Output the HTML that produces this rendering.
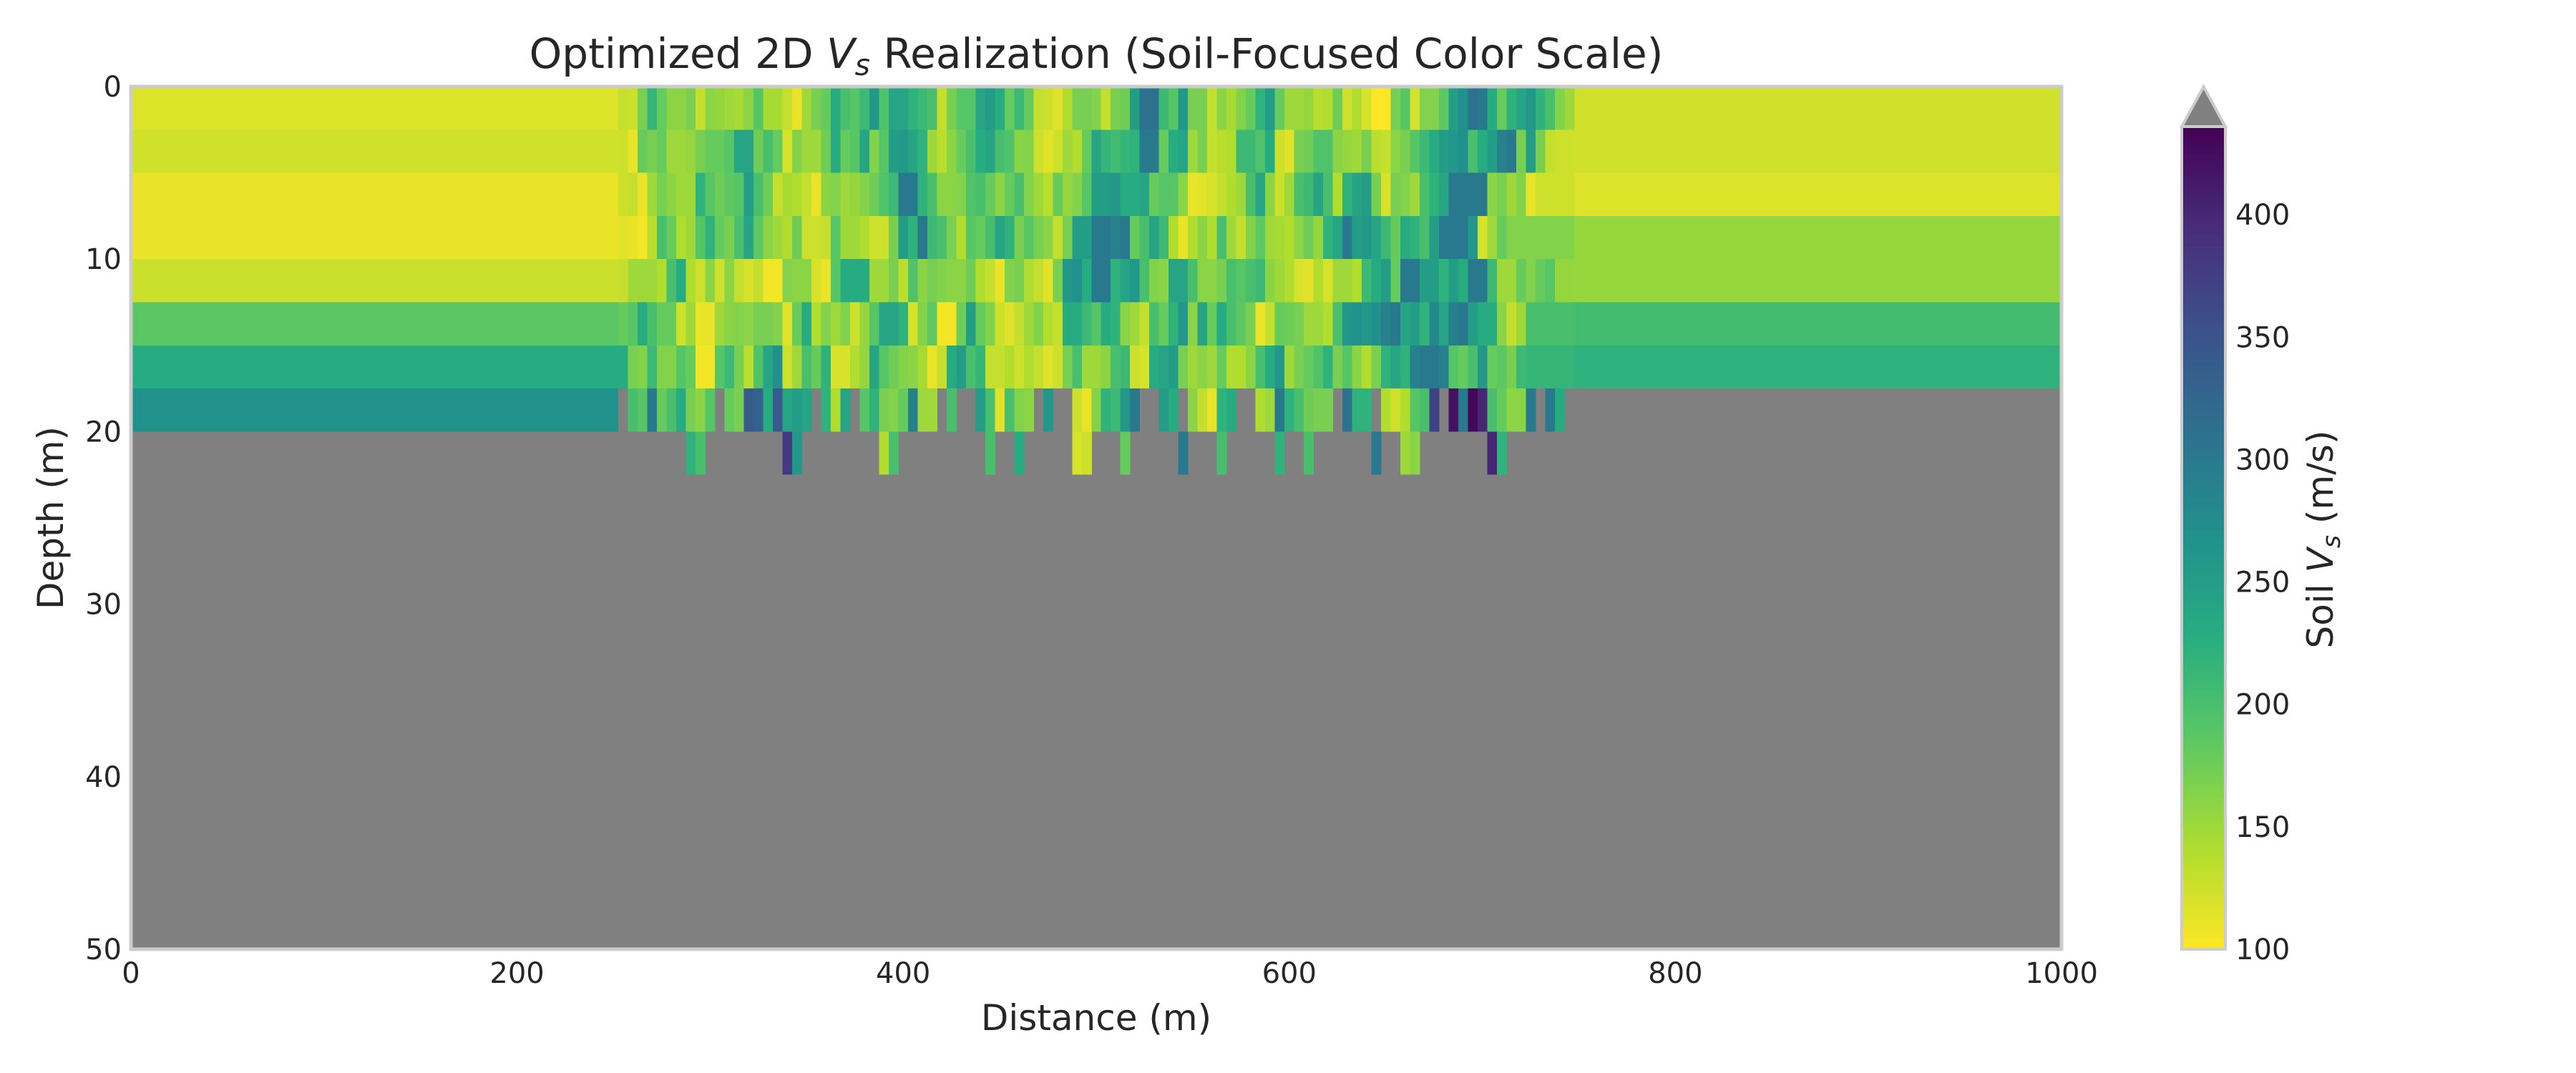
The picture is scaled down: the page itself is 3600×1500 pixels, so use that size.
<!DOCTYPE html>
<html><head><meta charset="utf-8"><style>
html,body{margin:0;padding:0;background:#fff;}
svg{display:block;font-family:"DejaVu Sans","Liberation Sans",sans-serif;}
</style></head><body>
<svg id="chart" width="3600" height="1500" viewBox="0 0 3600 1500">
<defs>
<linearGradient id="cbgrad" x1="0" y1="1" x2="0" y2="0">
<stop offset="0" stop-color="#fde725"/><stop offset="0.125" stop-color="#addc30"/><stop offset="0.25" stop-color="#5ec962"/><stop offset="0.375" stop-color="#28ae80"/><stop offset="0.5" stop-color="#21918c"/><stop offset="0.625" stop-color="#2c728e"/><stop offset="0.75" stop-color="#3b528b"/><stop offset="0.875" stop-color="#472d7b"/><stop offset="1" stop-color="#440154"/>
</linearGradient>
</defs>
<text x="1532" y="95" font-size="58" fill="#262626" text-anchor="middle">Optimized 2D <tspan font-style="italic">V</tspan><tspan font-style="italic" font-size="41" dy="10">s</tspan><tspan dy="-10"> Realization (Soil-Focused Color Scale)</tspan></text>
<g id="plot"></g>
<g id="axes"></g>
<g id="cbar"></g>
</svg>
<script>
// ---- data ----
const xTicks=[0,200,400,600,800,1000];
const yTicks=[0,10,20,30,40,50];
const cbTicks=[100,150,200,250,300,350,400];
const layerTops=[0,2.5,5,7.5,10,12.5,15,17.5];
const leftVs=[117,124,110,110,127,187,231,268];
const rightVs=[124,124,117,154,154,204,221];
const midStart=252.5, midStep=5, midCols=99;
const row0=[130,125,170,215,180,160,160,170,130,160,155,150,145,160,190,145,145,130,110,150,170,180,230,200,190,210,260,195,240,240,220,210,200,130,170,190,190,240,250,230,180,210,180,130,125,115,140,170,170,165,130,
170,175,250,310,310,210,190,260,170,170,130,160,145,165,180,220,250,180,150,150,155,135,140,175,125,140,120,100,100,170,190,120,165,165,185,250,270,310,300,230,180,220,240,260,220,200,165,150];
const row1=[125,110,180,170,180,150,150,155,170,180,180,190,240,240,175,200,180,120,165,150,150,175,230,180,190,240,165,190,250,255,240,220,150,135,160,180,200,230,240,200,195,160,165,125,115,125,150,140,180,240,215,
205,215,220,300,300,180,230,240,150,170,130,135,140,210,210,195,230,125,115,170,175,195,195,160,155,150,170,135,130,160,170,190,210,230,250,260,270,200,230,250,290,300,170,250,170,130,125,125];
const row2=[125,130,110,150,170,160,150,150,220,190,175,185,190,250,200,175,130,145,140,130,110,160,165,150,155,165,175,195,210,300,300,220,200,160,160,165,195,200,180,160,180,200,165,150,135,180,155,165,190,250,
250,260,230,230,240,180,190,190,160,110,115,120,130,140,150,200,240,160,125,150,200,210,240,200,140,220,240,250,170,120,170,165,150,200,220,240,300,300,300,300,160,170,150,165,110,125,125,125,125];
const row3=[115,110,105,135,200,180,140,150,190,220,180,170,200,240,185,160,150,140,175,125,125,130,190,150,150,140,125,125,170,250,220,300,210,200,170,140,190,180,200,240,220,170,190,170,160,130,170,250,250,300,
300,290,300,180,200,240,210,140,110,140,160,140,200,150,130,165,185,150,145,140,160,175,155,220,240,300,250,260,240,210,180,230,220,200,250,300,300,300,260,120,150,180,165,165,165,165,165,165,165];
const row4=[130,150,150,150,140,200,230,140,125,160,125,160,130,120,130,105,105,165,160,160,120,110,190,230,230,230,150,150,170,135,195,160,170,165,160,160,175,140,130,110,165,170,140,130,115,170,260,270,230,300,
300,220,240,260,200,165,160,240,240,200,160,160,170,200,190,200,210,160,150,140,120,115,140,120,150,150,140,210,230,250,180,300,300,250,250,220,250,230,300,300,210,150,150,180,165,180,190,155,155];
const row5=[180,190,230,200,180,180,125,150,110,110,150,160,165,160,170,170,165,115,180,230,140,165,150,165,125,155,190,240,240,220,120,165,185,105,105,175,250,180,165,125,115,130,150,165,140,130,230,230,210,190,
230,220,160,150,130,200,180,220,260,160,240,180,230,200,185,170,110,130,180,175,170,150,150,140,200,260,265,260,270,290,300,240,250,220,280,240,290,300,250,230,230,160,130,150,200,200,200,200,200];
const row6=[230,170,165,210,165,165,190,180,105,105,190,210,170,135,195,240,270,125,150,200,180,220,120,120,140,155,240,190,175,165,160,145,110,130,230,250,200,215,130,130,140,125,140,130,115,125,170,200,150,150,
160,200,210,125,120,230,240,250,170,150,160,150,180,140,140,160,200,230,260,150,170,180,195,220,170,190,160,140,170,220,240,220,290,300,300,290,190,180,200,260,180,185,170,210,215,215,215,215,215];
const row7=[null,200,190,300,180,200,230,170,160,190,null,180,170,340,330,230,340,240,250,240,null,220,140,240,null,190,220,170,165,180,290,150,150,null,200,null,null,250,200,115,200,165,160,null,260,null,null,125,110,165,
220,210,260,300,null,null,250,230,null,160,130,110,220,230,null,null,140,150,300,220,200,175,170,170,null,310,220,220,null,140,125,140,190,200,370,null,420,300,430,400,200,180,160,160,300,null,300,230];
const row8=[null,null,null,null,null,null,null,220,200,null,null,null,null,null,null,null,null,380,260,null,null,null,null,null,null,null,null,140,200,null,null,null,null,null,null,null,null,null,200,null,null,230,null,null,null,null,null,120,125,null,
null,null,180,null,null,null,null,null,300,null,null,null,200,null,null,null,null,null,220,null,null,200,null,null,null,null,null,null,300,null,null,150,160,null,null,null,null,null,null,null,400,220,null,null,null,null,null,null,null];
const midRows=[row0,row1,row2,row3,row4,row5,row6,row7,row8];
const vmin=100, vmax=436;

// ---- geometry ----
const X0=183,X1=2881,Y0=121,Y1=1327;
const xs=m=>X0+m*(X1-X0)/1000;
const ys=d=>Y0+d*(Y1-Y0)/50;
const CBX=3049,CBW=61,CBT=177,CBB=1327,CBTIP=121;
const cbY=v=>CBB-(v-vmin)*(CBB-CBT)/(vmax-vmin);

const vir=[[68,1,84],[71,45,123],[59,82,139],[44,114,142],[33,145,140],[40,174,128],[94,201,98],[173,220,48],[253,231,37]];
function color(v){
  if(v>vmax) return '#808080';
  let t=1-(v-vmin)/(vmax-vmin); t=Math.max(0,Math.min(1,t));
  const p=t*8,i=Math.min(7,Math.floor(p)),f=p-i;
  const c=vir[i].map((a,k)=>Math.round(a+(vir[i+1][k]-a)*f));
  return `rgb(${c[0]},${c[1]},${c[2]})`;
}
const NS='http://www.w3.org/2000/svg';
function mk(tag,attrs,parent){const e=document.createElementNS(NS,tag);for(const k in attrs)e.setAttribute(k,attrs[k]);parent.appendChild(e);return e;}

const plot=document.getElementById('plot');
const bg=mk('rect',{x:X0,y:Y0,width:X1-X0,height:Y1-Y0,fill:'#808080'},plot);



const midEnd=midStart+midStep*midCols;
layerTops.forEach((d,i)=>{
  const r=mk('rect',{x:xs(0),y:ys(d),width:xs(midStart)-xs(0),height:ys(d+2.5)-ys(d),fill:color(leftVs[i]),'shape-rendering':'crispEdges'},plot);
  
  
});
rightVs.forEach((v,i)=>{
  const d=layerTops[i];
  const r=mk('rect',{x:xs(midEnd),y:ys(d),width:xs(1000)-xs(midEnd),height:ys(d+2.5)-ys(d),fill:color(v),'shape-rendering':'crispEdges'},plot);
  
  
});
midRows.forEach((row,ri)=>{
  const d=ri*2.5;
  row.forEach((v,ci)=>{
    if(v===null||ci>=midCols) return;
    const m=midStart+ci*midStep;
    const r=mk('rect',{x:xs(m),y:ys(d),width:xs(m+midStep)-xs(m)+0.5,height:ys(d+2.5)-ys(d),fill:color(v),'shape-rendering':'crispEdges'},plot);
    
    
  });
});
const frame=mk('rect',{x:X0,y:Y0,width:X1-X0,height:Y1-Y0,fill:'none',stroke:'#cccccc','stroke-width':5},plot);



const axes=document.getElementById('axes');
xTicks.forEach(t=>{
  const e=mk('text',{x:xs(t),y:1374,'font-size':40,fill:'#262626','text-anchor':'middle'},axes);
  e.textContent=t;
  
  
});
yTicks.forEach(t=>{
  const e=mk('text',{x:170,y:ys(t)+14,'font-size':40,fill:'#262626','text-anchor':'end'},axes);
  e.textContent=t;
  
  
});
const xl=mk('text',{x:1532,y:1440,'font-size':50,fill:'#262626','text-anchor':'middle'},axes);
xl.textContent='Distance (m)';


const yl=mk('text',{x:0,y:0,'font-size':50,fill:'#262626','text-anchor':'middle',transform:'translate(88,724) rotate(-90)'},axes);
yl.textContent='Depth (m)';



const cb=document.getElementById('cbar');
const tri=mk('polygon',{points:`${CBX},${CBT} ${CBX+CBW/2},${CBTIP} ${CBX+CBW},${CBT}`,fill:'#808080',stroke:'#cccccc','stroke-width':4},cb);


const cbr=mk('rect',{x:CBX,y:CBT,width:CBW,height:CBB-CBT,fill:'url(#cbgrad)',stroke:'#cccccc','stroke-width':4},cb);


cbTicks.forEach(t=>{
  const e=mk('text',{x:3124,y:cbY(t)+14,'font-size':40,fill:'#262626'},cb);
  e.textContent=t;
  
  
});
const cl=mk('text',{x:0,y:0,'font-size':50,fill:'#262626','text-anchor':'middle',transform:'translate(3260,754) rotate(-90)'},cb);
cl.innerHTML='Soil <tspan font-style="italic">V</tspan><tspan font-style="italic" font-size="35" dy="10">s</tspan><tspan dy="-10"> (m/s)</tspan>';


</script>
</body></html>
